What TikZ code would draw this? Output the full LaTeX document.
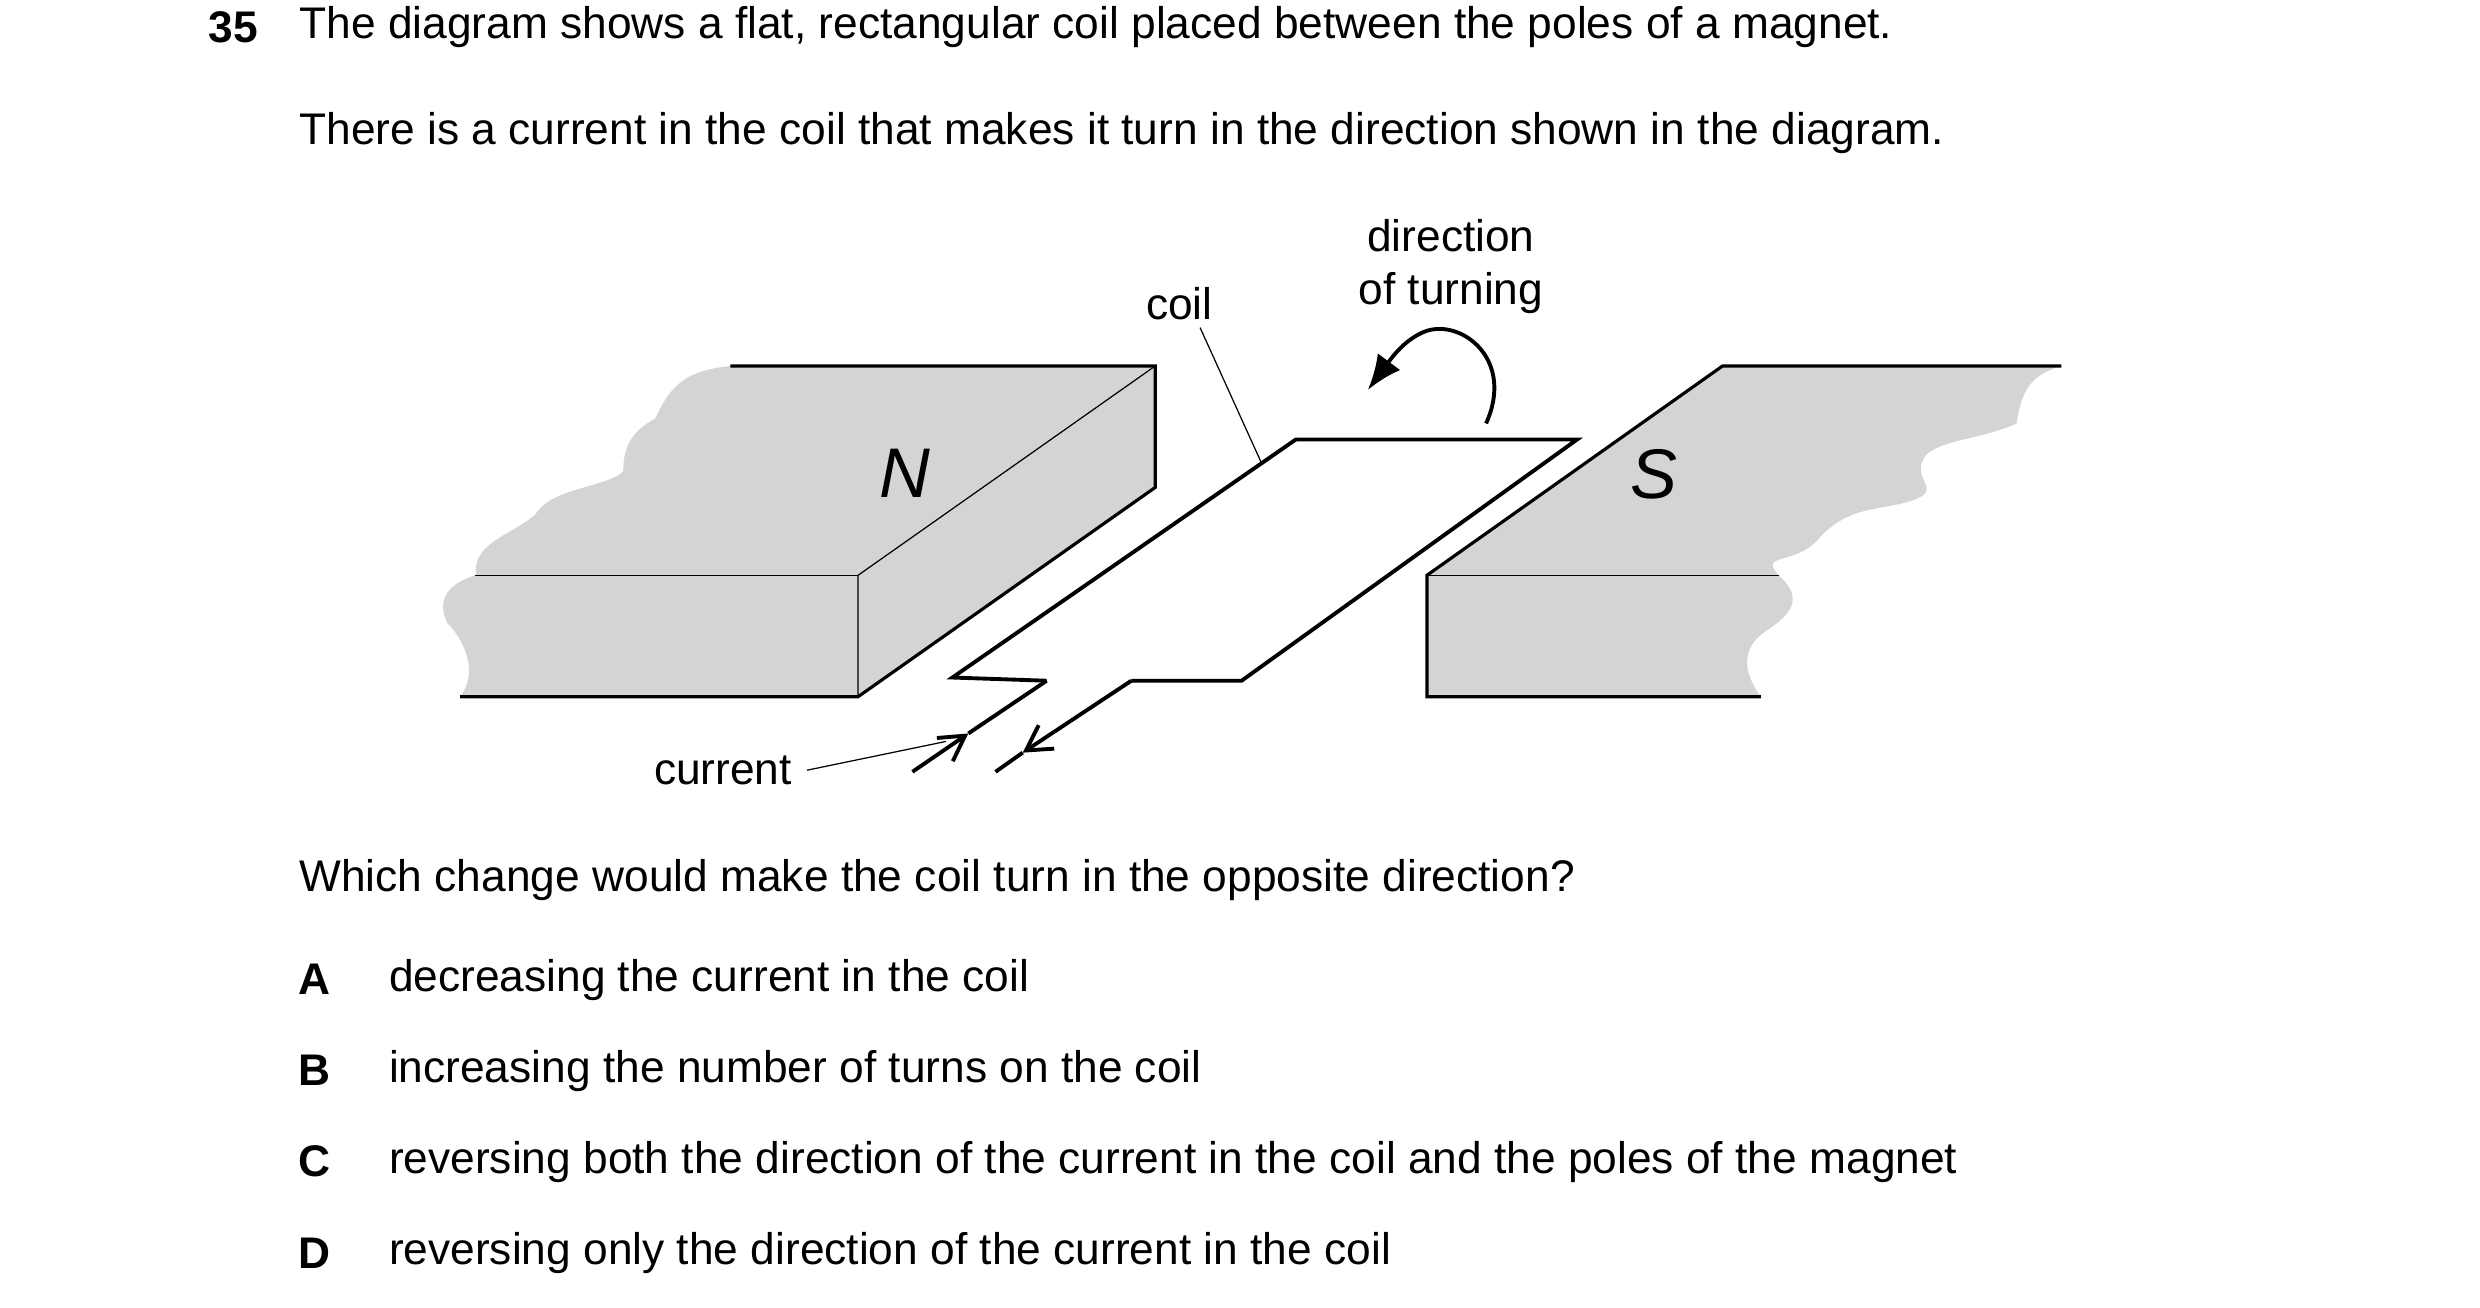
\documentclass[tikz,border=0pt]{standalone}
\usepackage{fontspec}
\setmainfont{Liberation Sans}
\usetikzlibrary{arrows.meta}
\definecolor{polegray}{RGB}{211,212,214}
\tikzset{
  txt/.style={anchor=west, inner sep=0pt, font=\fontsize{12.6}{15}\selectfont},
  lbl/.style={inner sep=0pt, font=\fontsize{12.6}{15}\selectfont, align=center},
  wire/.style={line width=1.1pt, line join=miter},
  edge/.style={line width=0.9pt},
  thinline/.style={line width=0.35pt},
  barb/.style={-{Straight Barb[length=7pt,width=8pt,line width=1.1pt]}}
}
\begin{document}
\begin{tikzpicture}[x=0.01598cm, y=-0.01598cm]
    \useasboundingbox (0,0) rectangle (1552,818);

    % Question text
    \node[txt, font=\fontsize{12.6}{15}\selectfont\bfseries] (num) at (130,17) {35};
    \node[txt] (q1) at (187,17) {The diagram shows a flat, rectangular coil placed between the poles of a magnet.};
    \node[txt] (q2) at (187,83) {There is a current in the coil that makes it turn in the direction shown in the diagram.};

    % N pole
    \fill[polegray] (457,229) -- (723,229) -- (723,305) -- (537,436) -- (288,436)
        .. controls (300,420) and (290,400) .. (280,390)
        .. controls (270,370) and (290,362) .. (298,360)
        .. controls (295,340) and (320,335) .. (335,322)
        .. controls (345,305) and (380,305) .. (390,295)
        .. controls (390,280) and (395,270) .. (410,262)
        .. controls (420,240) and (430,232) .. (457,229) -- cycle;
    \draw[edge] (457,229) -- (723,229) -- (723,305) -- (537,436) -- (288,436);
    \draw[thinline] (723,229) -- (537,360) -- (537,436);
    \draw[thinline] (297,360) -- (537,360);
    \node[font=\fontsize{20}{20}\selectfont\itshape] (npole) at (566,296) {N};

    % S pole
    \fill[polegray] (1078,229) -- (1290,229)
        .. controls (1270,235) and (1265,245) .. (1262,265)
        .. controls (1240,275) and (1215,275) .. (1205,285)
        .. controls (1195,300) and (1215,305) .. (1200,312)
        .. controls (1180,320) and (1160,315) .. (1140,335)
        .. controls (1125,355) and (1100,345) .. (1113,360)
        .. controls (1130,375) and (1120,385) .. (1105,395)
        .. controls (1090,405) and (1090,420) .. (1102,436)
        -- (893,436) -- (893,360) -- cycle;
    \draw[edge] (1290,229) -- (1078,229) -- (893,360) -- (893,436) -- (1102,436);
    \draw[thinline] (893,360) -- (1113,360);
    \node[font=\fontsize{20}{20}\selectfont\itshape] (spole) at (1035,297) {S};

    % Coil
    \coordinate (c1) at (811,275);
    \coordinate (c2) at (987,275);
    \coordinate (c3) at (777,426);
    \coordinate (c4) at (708,426);
    \coordinate (c5) at (596,424);
    \coordinate (c6) at (655,426);
    \draw[wire] (c4) -- (c3) -- (c2) -- (c1) -- (c5) -- (c6);
    \coordinate (la) at (571,483);
    \coordinate (lt) at (606,459);
    \coordinate (ra) at (623,483);
    \coordinate (rt) at (640,471);
    \draw[wire, barb] (la) -- (lt);
    \draw[wire] (lt) -- (c6);
    \draw[wire, barb] (c4) -- (rt);
    \draw[wire] (rt) -- (ra);

    % Labels
    \node[lbl] (coil) at (738,190) {coil};
    \draw[thinline] (751,205) -- (790,291);
    \node[lbl] (turn) at (908,167) {direction\\of turning};
    \draw[line width=1.1pt, -{Latex[length=10pt,width=8pt]}] (930,265)
        .. controls (948,225) and (915,200) .. (893,207)
        .. controls (878,212) and (868,228) .. (856,244);
    \node[lbl, anchor=east] (cur) at (496,482) {current};
    \draw[thinline] (505,482) -- (592,464);

    % Options
    \node[txt] (q3) at (187,551) {Which change would make the coil turn in the opposite direction?};
    \foreach \L/\T/\y in {A/decreasing the current in the coil/613,
        B/increasing the number of turns on the coil/670,
        C/reversing both the direction of the current in the coil and the poles of the magnet/727,
        D/reversing only the direction of the current in the coil/784}{
      \node[lbl, font=\fontsize{12.6}{15}\selectfont\bfseries] (opt\L) at (197,\y) {\L};
      \node[txt] (txt\L) at (243,\y) {\T};
    }
\end{tikzpicture}
\end{document}
